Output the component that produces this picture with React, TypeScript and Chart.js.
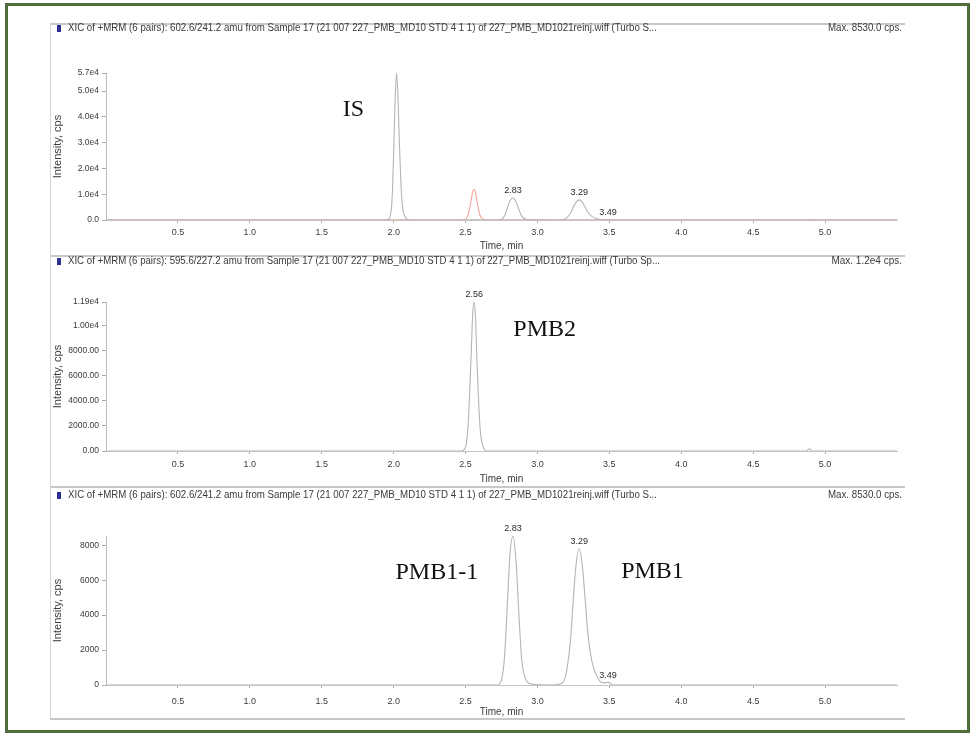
import React, { useEffect, useRef } from "react";
import { Chart, registerables } from "chart.js";

Chart.register(...registerables);

// ---------------- data ----------------
const X_TICKS = [0.5, 1.0, 1.5, 2.0, 2.5, 3.0, 3.5, 4.0, 4.5, 5.0];
const X_MAX = 5.5;

const IS_TIME = [0, 0.5, 1.0, 1.5, 1.94, 1.97, 1.99, 2.0, 2.01, 2.02, 2.03, 2.04, 2.05, 2.06, 2.08, 2.11, 2.3, 5.5];
const IS_INTENSITY = [0, 0, 0, 0, 0, 600, 9000, 26000, 46000, 57000, 48000, 30000, 15000, 6000, 1200, 0, 0, 0];

const PMB2_TIME = [0, 1.0, 2.0, 2.47, 2.5, 2.52, 2.54, 2.55, 2.56, 2.57, 2.58, 2.6, 2.62, 2.65, 3.5, 4.87, 4.89, 4.91, 5.5];
const PMB2_INTENSITY = [0, 0, 0, 0, 300, 2500, 8000, 11000, 11900, 10500, 7000, 2000, 400, 0, 0, 0, 180, 0, 0];

const PMB1_TIME = [0, 1.0, 2.0, 2.72, 2.75, 2.77, 2.79, 2.81, 2.83, 2.85, 2.87, 2.89, 2.92, 2.96, 3.1, 3.17, 3.2, 3.23, 3.25, 3.27, 3.29, 3.31, 3.33, 3.35, 3.38, 3.42, 3.46, 3.49, 3.53, 4.5, 5.5];
const PMB1_INTENSITY = [0, 0, 0, 0, 300, 1500, 4500, 7600, 8530, 7200, 4200, 1500, 300, 50, 0, 100, 700, 2600, 5000, 7000, 7800, 7000, 5100, 3000, 1300, 400, 120, 150, 0, 0, 0];

const P1_Y_TICKS = [0, 10000, 20000, 30000, 40000, 50000, 57000];
const P1_Y_LABELS = ["0.0", "1.0e4", "2.0e4", "3.0e4", "4.0e4", "5.0e4", "5.7e4"];
const P2_Y_TICKS = [0, 2000, 4000, 6000, 8000, 10000, 11900];
const P2_Y_LABELS = ["0.00", "2000.00", "4000.00", "6000.00", "8000.00", "1.00e4", "1.19e4"];
const P3_Y_TICKS = [0, 2000, 4000, 6000, 8000];
const P3_Y_LABELS = ["0", "2000", "4000", "6000", "8000"];

const P1_PEAK_TIMES = [2.83, 3.29, 3.49];
const P1_PEAK_VALUES = [8530, 7800, 150];
const P1_PEAK_TEXTS = ["2.83", "3.29", "3.49"];
const P2_PEAK_TIMES = [2.56];
const P2_PEAK_VALUES = [11900];
const P2_PEAK_TEXTS = ["2.56"];
const P3_PEAK_TIMES = [2.83, 3.29, 3.49];
const P3_PEAK_VALUES = [8530, 7800, 150];
const P3_PEAK_TEXTS = ["2.83", "3.29", "3.49"];

const P1_NAMES = ["IS"];
const P1_NAME_TIMES = [1.72];
const P1_NAME_VALUES = [42600];
const P2_NAMES = ["PMB2"];
const P2_NAME_TIMES = [3.05];
const P2_NAME_VALUES = [9700];
const P3_NAMES = ["PMB1-1", "PMB1"];
const P3_NAME_TIMES = [2.3, 3.8];
const P3_NAME_VALUES = [6430, 6500];

const TITLE_A = "XIC of +MRM (6 pairs): 602.6/241.2 amu from Sample 17 (21 007 227_PMB_MD10 STD 4 1 1) of 227_PMB_MD1021reinj.wiff (Turbo S...";
const TITLE_B = "XIC of +MRM (6 pairs): 595.6/227.2 amu from Sample 17 (21 007 227_PMB_MD10 STD 4 1 1) of 227_PMB_MD1021reinj.wiff (Turbo Sp...";
const MAX_A = "Max. 8530.0 cps.";
const MAX_B = "Max. 1.2e4 cps.";

// ---------------- styles ----------------
const SANS = "'Liberation Sans', Arial, sans-serif";
const SERIF = "'Liberation Serif', 'Times New Roman', serif";
const GREY = "#b5b5b5";
const PINK = "#f2a49b";

const pts = (t: number[], v: number[]) => t.map((x, i) => ({ x, y: v[i] }));

type PanelCfg = {
  key: string;
  top: number;
  height: number;
  padTop: number;
  titleY: number;
  title: string;
  titleW: number;
  maxLabel: string;
  yMax: number;
  yTicks: number[];
  yLabels: string[];
  xTickPad: number;
  xTitlePad: number;
  series: { t: number[]; v: number[]; color: string }[];
  peakT: number[];
  peakV: number[];
  peakS: string[];
  nameS: string[];
  nameT: number[];
  nameV: number[];
  bottomLine?: boolean;
};

const PANELS: PanelCfg[] = [
  {
    key: "p1", top: 23, height: 232, padTop: 50, titleY: 5, title: TITLE_A, titleW: 589, maxLabel: MAX_A,
    yMax: 57000, yTicks: P1_Y_TICKS, yLabels: P1_Y_LABELS, xTickPad: 4, xTitlePad: 3,
    series: [
      { t: IS_TIME, v: IS_INTENSITY, color: GREY },
      { t: PMB2_TIME, v: PMB2_INTENSITY, color: PINK },
      { t: PMB1_TIME, v: PMB1_INTENSITY, color: GREY },
    ],
    peakT: P1_PEAK_TIMES, peakV: P1_PEAK_VALUES, peakS: P1_PEAK_TEXTS,
    nameS: P1_NAMES, nameT: P1_NAME_TIMES, nameV: P1_NAME_VALUES,
  },
  {
    key: "p2", top: 255, height: 231, padTop: 47, titleY: 6, title: TITLE_B, titleW: 592, maxLabel: MAX_B,
    yMax: 11900, yTicks: P2_Y_TICKS, yLabels: P2_Y_LABELS, xTickPad: 5, xTitlePad: 1,
    series: [{ t: PMB2_TIME, v: PMB2_INTENSITY, color: GREY }],
    peakT: P2_PEAK_TIMES, peakV: P2_PEAK_VALUES, peakS: P2_PEAK_TEXTS,
    nameS: P2_NAMES, nameT: P2_NAME_TIMES, nameV: P2_NAME_VALUES,
  },
  {
    key: "p3", top: 486, height: 234, padTop: 50, titleY: 9, title: TITLE_A, titleW: 589, maxLabel: MAX_A,
    yMax: 8530, yTicks: P3_Y_TICKS, yLabels: P3_Y_LABELS, xTickPad: 8, xTitlePad: 2,
    series: [{ t: PMB1_TIME, v: PMB1_INTENSITY, color: GREY }],
    peakT: P3_PEAK_TIMES, peakV: P3_PEAK_VALUES, peakS: P3_PEAK_TEXTS,
    nameS: P3_NAMES, nameT: P3_NAME_TIMES, nameV: P3_NAME_VALUES,
    bottomLine: true,
  },
];

const CANVAS_W = 855;

function makeOverlay(cfg: PanelCfg) {
  return {
    id: "overlay_" + cfg.key,
    afterDraw(chart: any) {
      const ctx = chart.ctx as CanvasRenderingContext2D;
      const xs = chart.scales.x;
      const ys = chart.scales.y;
      ctx.save();
      // frame lines
      ctx.fillStyle = "#c8c8c8";
      ctx.fillRect(0, 0, CANVAS_W, 2);
      ctx.fillStyle = "#d6d6d6";
      ctx.fillRect(0, 0, 1, chart.height);
      if (cfg.bottomLine) {
        ctx.fillStyle = "#c8c8c8";
        ctx.fillRect(0, chart.height - 2, CANVAS_W, 2);
      }
      // header
      ctx.fillStyle = "#2b3192";
      ctx.fillRect(7, cfg.titleY - 3, 4, 7);
      ctx.fillStyle = "#3a3a3a";
      ctx.textBaseline = "middle";
      ctx.textAlign = "left";
      ctx.font = `10px ${SANS}`;
      ctx.fillText(cfg.title, 18, cfg.titleY, cfg.titleW);
      ctx.textAlign = "right";
      ctx.fillText(cfg.maxLabel, 852, cfg.titleY, 74);
      // peak labels
      ctx.textAlign = "center";
      ctx.textBaseline = "middle";
      ctx.fillStyle = "#2a2a2a";
      ctx.font = `9px ${SANS}`;
      cfg.peakS.forEach((s, i) => {
        const px = xs.getPixelForValue(cfg.peakT[i]);
        const py = ys.getPixelForValue(cfg.peakV[i]);
        ctx.fillText(s, px, py - 7);
      });
      // compound names
      ctx.font = `24px ${SERIF}`;
      ctx.fillStyle = "#111";
      cfg.nameS.forEach((s, i) => {
        ctx.fillText(s, xs.getPixelForValue(cfg.nameT[i]), ys.getPixelForValue(cfg.nameV[i]));
      });
      ctx.restore();
    },
  };
}

function Panel({ cfg }: { cfg: PanelCfg }) {
  const ref = useRef<HTMLCanvasElement>(null);
  useEffect(() => {
    if (!ref.current) return;
    const chart = new Chart(ref.current, {
      type: "line",
      data: {
        datasets: cfg.series.map((s) => ({
          data: pts(s.t, s.v),
          borderColor: s.color,
          borderWidth: 1.1,
          pointRadius: 0,
          fill: false,
          cubicInterpolationMode: "monotone" as const,
        })),
      },
      options: {
        animation: false,
        responsive: false,
        devicePixelRatio: 1,
        events: [],
        layout: { padding: { top: cfg.padTop, right: 8, left: 0, bottom: 0 } },
        plugins: { legend: { display: false }, tooltip: { enabled: false } },
        scales: {
          x: {
            type: "linear",
            min: 0,
            max: X_MAX,
            afterBuildTicks: (s: any) => {
              s.ticks = X_TICKS.map((v) => ({ value: v }));
            },
            afterFit: (s: any) => {
              s.height = 35;
            },
            ticks: {
              autoSkip: false,
              maxRotation: 0,
              padding: cfg.xTickPad,
              color: "#3a3a3a",
              font: { size: 9, family: SANS },
              callback: (v: any) => Number(v).toFixed(1),
            },
            grid: { display: true, drawOnChartArea: false, drawTicks: true, tickLength: 3, color: "#aaa" },
            border: { display: true, color: "#c4c4c4" },
            title: {
              display: true,
              text: "Time, min",
              color: "#3a3a3a",
              font: { size: 10, family: SANS },
              padding: { top: 0, bottom: cfg.xTitlePad },
            },
          },
          y: {
            type: "linear",
            min: 0,
            max: cfg.yMax,
            afterBuildTicks: (s: any) => {
              s.ticks = cfg.yTicks.map((v) => ({ value: v }));
            },
            afterFit: (s: any) => {
              s.width = 56;
            },
            ticks: {
              autoSkip: false,
              padding: 3,
              color: "#3a3a3a",
              font: { size: 8.5, family: SANS },
              callback: (v: any) => {
                const i = cfg.yTicks.indexOf(Number(v));
                return i >= 0 ? cfg.yLabels[i] : "";
              },
            },
            grid: { display: true, drawOnChartArea: false, drawTicks: true, tickLength: 4, color: "#aaa" },
            border: { display: true, color: "#bdbdbd" },
            title: {
              display: true,
              text: "Intensity, cps",
              color: "#3a3a3a",
              font: { size: 11, family: SANS },
              padding: { top: 1, bottom: 0 },
            },
          },
        },
      },
      plugins: [makeOverlay(cfg)],
    } as any);
    return () => chart.destroy();
  }, []);
  return (
    <canvas
      ref={ref}
      width={CANVAS_W}
      height={cfg.height}
      style={{ position: "absolute", left: 50, top: cfg.top, width: CANVAS_W, height: cfg.height }}
    />
  );
}

export default function App() {
  return (
    <div style={{ position: "absolute", left: 0, top: 0, width: 975, height: 734, background: "#fff", overflow: "hidden" }}>
      <div
        style={{
          position: "absolute",
          left: 5,
          top: 3,
          width: 965,
          height: 730,
          border: "3px solid #4f6d3a",
          boxSizing: "border-box",
        }}
      />
      {PANELS.map((p) => (
        <Panel key={p.key} cfg={p} />
      ))}
    </div>
  );
}
